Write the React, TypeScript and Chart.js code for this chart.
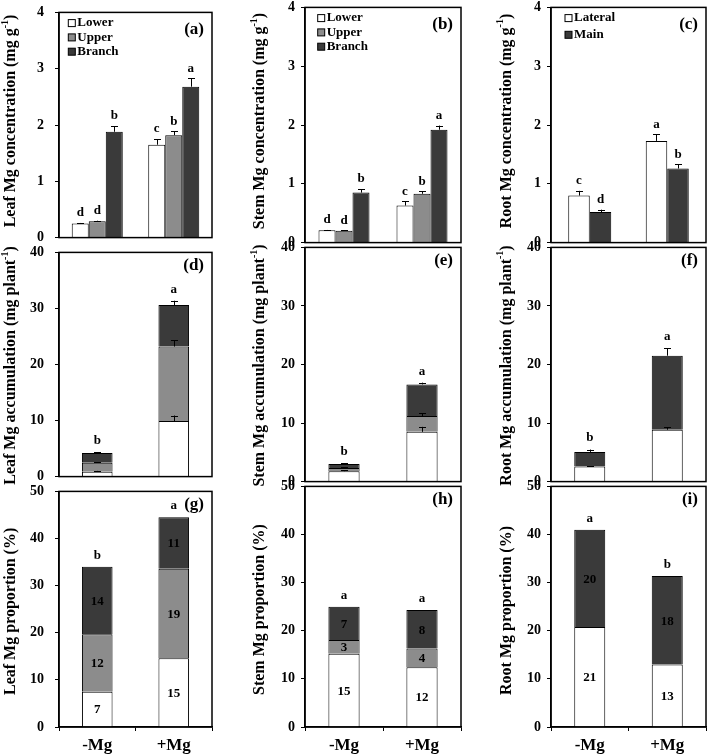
import React, { useEffect, useRef } from 'react';
import { Chart, registerables } from 'chart.js';
Chart.register(...registerables);

const FONT = "'Liberation Serif', 'Times New Roman', serif";
Chart.defaults.font.family = FONT;
Chart.defaults.color = '#000';

const WHITE = '#ffffff';
const GREY = '#8c8c8c';
const DARK = '#3a3a3a';

const groups = ['-Mg', '+Mg'];

// (a) Leaf Mg concentration
const leafConcLower = [0.25, 1.65];
const leafConcLowerErr = [0.01, 0.1];
const leafConcLowerSig = ['d', 'c'];
const leafConcUpper = [0.29, 1.82];
const leafConcUpperErr = [0.01, 0.07];
const leafConcUpperSig = ['d', 'b'];
const leafConcBranch = [1.88, 2.68];
const leafConcBranchErr = [0.1, 0.15];
const leafConcBranchSig = ['b', 'a'];

// (b) Stem Mg concentration
const stemConcLower = [0.21, 0.63];
const stemConcLowerErr = [0.005, 0.07];
const stemConcLowerSig = ['d', 'c'];
const stemConcUpper = [0.2, 0.83];
const stemConcUpperErr = [0.01, 0.04];
const stemConcUpperSig = ['d', 'b'];
const stemConcBranch = [0.85, 1.92];
const stemConcBranchErr = [0.06, 0.07];
const stemConcBranchSig = ['b', 'a'];

// (c) Root Mg concentration
const rootConcLateral = [0.8, 1.73];
const rootConcLateralErr = [0.08, 0.11];
const rootConcLateralSig = ['c', 'a'];
const rootConcMain = [0.52, 1.26];
const rootConcMainErr = [0.04, 0.07];
const rootConcMainSig = ['d', 'b'];

// (d) Leaf Mg accumulation (stacked segments)
const leafAccLower = [0.85, 9.9];
const leafAccLowerErr = [0.17, 1.0];
const leafAccUpper = [1.6, 13.3];
const leafAccUpperErr = [0.15, 1.17];
const leafAccBranch = [1.75, 7.4];
const leafAccBranchErr = [0.12, 0.78];
const leafAccSig = ['b', 'a'];

// (e) Stem Mg accumulation
const stemAccLower = [1.78, 8.5];
const stemAccLowerErr = [0.2, 0.85];
const stemAccUpper = [0.56, 2.7];
const stemAccUpperErr = [0.1, 0.5];
const stemAccBranch = [0.66, 5.4];
const stemAccBranchErr = [0.12, 0.3];
const stemAccSig = ['b', 'a'];

// (f) Root Mg accumulation
const rootAccLateral = [2.56, 8.86];
const rootAccLateralErr = [0.1, 0.4];
const rootAccMain = [2.51, 12.64];
const rootAccMainErr = [0.4, 1.3];
const rootAccSig = ['b', 'a'];

// (g) Leaf Mg proportion
const leafPropLower = [7.5, 14.6];
const leafPropLowerLbl = ['7', '15'];
const leafPropUpper = [12.2, 19.0];
const leafPropUpperLbl = ['12', '19'];
const leafPropBranch = [14.3, 10.9];
const leafPropBranchLbl = ['14', '11'];
const leafPropSig = ['b', 'a'];

// (h) Stem Mg proportion
const stemPropLower = [15.2, 12.4];
const stemPropLowerLbl = ['15', '12'];
const stemPropUpper = [2.9, 3.9];
const stemPropUpperLbl = ['3', '4'];
const stemPropBranch = [6.9, 8.0];
const stemPropBranchLbl = ['7', '8'];
const stemPropSig = ['a', 'a'];

// (i) Root Mg proportion
const rootPropLateral = [20.8, 13.0];
const rootPropLateralLbl = ['21', '13'];
const rootPropMain = [20.2, 18.4];
const rootPropMainLbl = ['20', '18'];
const rootPropSig = ['a', 'b'];

// ---- layout (page pixels) ----
const COLS = [
  { axisX: 59, right: 212, titleX: 11, tickPad: 11, legendDX: 9.3, groupPct: 0.667 },
  { axisX: 305, right: 461, titleX: 260, tickPad: 6, legendDX: 12.7, groupPct: 0.654 },
  { axisX: 551, right: 706, titleX: 506.5, tickPad: 6, legendDX: 14, groupPct: 0.555 },
];
const ROWS = [
  { top: 5, bottom: 245, labelDY: 17, titleY: 121, anchor: 'center', sigGap: 3.5 },
  { top: 245, bottom: 484, labelDY: 13, titleY: 365.5, anchor: 'center', sigGap: 5 },
  { top: 484, bottom: 727, labelDY: 13, titleY: 695, anchor: 'start', sigGap: 5 },
];

type Series = { name: string; color: string; values: number[]; errs?: number[]; sig?: string[]; seg?: string[] };
type Panel = {
  row: number; col: number; label: string; stacked: boolean; max: number; step: number;
  series: Series[]; topSig?: string[]; legend?: boolean; legendSpacing?: number;
  title: string; unitSup?: boolean;
};

const PANELS: Panel[] = [
  {
    row: 0, col: 0, label: '(a)', stacked: false, max: 4, step: 1, legend: true, legendSpacing: 14.3,
    title: 'Leaf Mg concentration (mg g', unitSup: true,
    series: [
      { name: 'Lower', color: WHITE, values: leafConcLower, errs: leafConcLowerErr, sig: leafConcLowerSig },
      { name: 'Upper', color: GREY, values: leafConcUpper, errs: leafConcUpperErr, sig: leafConcUpperSig },
      { name: 'Branch', color: DARK, values: leafConcBranch, errs: leafConcBranchErr, sig: leafConcBranchSig },
    ],
  },
  {
    row: 0, col: 1, label: '(b)', stacked: false, max: 4, step: 1, legend: true, legendSpacing: 14.3,
    title: 'Stem Mg concentration (mg g', unitSup: true,
    series: [
      { name: 'Lower', color: WHITE, values: stemConcLower, errs: stemConcLowerErr, sig: stemConcLowerSig },
      { name: 'Upper', color: GREY, values: stemConcUpper, errs: stemConcUpperErr, sig: stemConcUpperSig },
      { name: 'Branch', color: DARK, values: stemConcBranch, errs: stemConcBranchErr, sig: stemConcBranchSig },
    ],
  },
  {
    row: 0, col: 2, label: '(c)', stacked: false, max: 4, step: 1, legend: true, legendSpacing: 16.7,
    title: 'Root Mg concentration (mg g', unitSup: true,
    series: [
      { name: 'Lateral', color: WHITE, values: rootConcLateral, errs: rootConcLateralErr, sig: rootConcLateralSig },
      { name: 'Main', color: DARK, values: rootConcMain, errs: rootConcMainErr, sig: rootConcMainSig },
    ],
  },
  {
    row: 1, col: 0, label: '(d)', stacked: true, max: 40, step: 10, topSig: leafAccSig,
    title: 'Leaf Mg accumulation (mg plant', unitSup: true,
    series: [
      { name: 'Lower', color: WHITE, values: leafAccLower, errs: leafAccLowerErr },
      { name: 'Upper', color: GREY, values: leafAccUpper, errs: leafAccUpperErr },
      { name: 'Branch', color: DARK, values: leafAccBranch, errs: leafAccBranchErr },
    ],
  },
  {
    row: 1, col: 1, label: '(e)', stacked: true, max: 40, step: 10, topSig: stemAccSig,
    title: 'Stem Mg accumulation (mg plant', unitSup: true,
    series: [
      { name: 'Lower', color: WHITE, values: stemAccLower, errs: stemAccLowerErr },
      { name: 'Upper', color: GREY, values: stemAccUpper, errs: stemAccUpperErr },
      { name: 'Branch', color: DARK, values: stemAccBranch, errs: stemAccBranchErr },
    ],
  },
  {
    row: 1, col: 2, label: '(f)', stacked: true, max: 40, step: 10, topSig: rootAccSig,
    title: 'Root Mg accumulation (mg plant', unitSup: true,
    series: [
      { name: 'Lateral', color: WHITE, values: rootAccLateral, errs: rootAccLateralErr },
      { name: 'Main', color: DARK, values: rootAccMain, errs: rootAccMainErr },
    ],
  },
  {
    row: 2, col: 0, label: '(g)', stacked: true, max: 50, step: 10, topSig: leafPropSig,
    title: 'Leaf Mg proportion (%)',
    series: [
      { name: 'Lower', color: WHITE, values: leafPropLower, seg: leafPropLowerLbl },
      { name: 'Upper', color: GREY, values: leafPropUpper, seg: leafPropUpperLbl },
      { name: 'Branch', color: DARK, values: leafPropBranch, seg: leafPropBranchLbl },
    ],
  },
  {
    row: 2, col: 1, label: '(h)', stacked: true, max: 50, step: 10, topSig: stemPropSig,
    title: 'Stem Mg proportion (%)',
    series: [
      { name: 'Lower', color: WHITE, values: stemPropLower, seg: stemPropLowerLbl },
      { name: 'Upper', color: GREY, values: stemPropUpper, seg: stemPropUpperLbl },
      { name: 'Branch', color: DARK, values: stemPropBranch, seg: stemPropBranchLbl },
    ],
  },
  {
    row: 2, col: 2, label: '(i)', stacked: true, max: 50, step: 10, topSig: rootPropSig,
    title: 'Root Mg proportion (%)',
    series: [
      { name: 'Lateral', color: WHITE, values: rootPropLateral, seg: rootPropLateralLbl },
      { name: 'Main', color: DARK, values: rootPropMain, seg: rootPropMainLbl },
    ],
  },
];

const decorPlugin = {
  id: 'decor',
  afterDraw(chart: any, _args: any, o: any) {
    const ctx = chart.ctx as CanvasRenderingContext2D;
    const { left, right, top, bottom } = chart.chartArea;
    const ys = chart.scales.y;
    const len = (v: number) => ys.getPixelForValue(0) - ys.getPixelForValue(v);
    ctx.save();
    ctx.strokeStyle = '#000';
    ctx.fillStyle = '#000';
    ctx.lineWidth = 1.5;
    ctx.strokeRect(left, top, right - left, bottom - top);

    const series: Series[] = o.series;
    ctx.lineWidth = 1;
    series.forEach((s, i) => {
      const meta = chart.getDatasetMeta(i);
      meta.data.forEach((bar: any, j: number) => {
        const e = s.errs ? len(s.errs[j]) : 0;
        if (s.errs) {
          const x = Math.round(bar.x) + 0.5;
          ctx.beginPath();
          ctx.moveTo(x, bar.y);
          ctx.lineTo(x, bar.y - e);
          ctx.moveTo(x - 3.5, Math.round(bar.y - e) + 0.5);
          ctx.lineTo(x + 3.5, Math.round(bar.y - e) + 0.5);
          ctx.stroke();
        }
        if (s.sig) {
          ctx.font = `bold 13px ${FONT}`;
          ctx.textAlign = 'center';
          ctx.textBaseline = 'bottom';
          ctx.fillText(s.sig[j], bar.x, bar.y - e - o.sigGap);
        }
        if (s.seg) {
          ctx.font = `bold 13px ${FONT}`;
          ctx.textAlign = 'center';
          ctx.textBaseline = 'middle';
          ctx.fillText(s.seg[j], bar.x, (bar.y + bar.base) / 2 + 1);
        }
      });
    });

    if (o.topSig) {
      const last = series.length - 1;
      const meta = chart.getDatasetMeta(last);
      meta.data.forEach((bar: any, j: number) => {
        const errs = series[last].errs;
        const e = errs ? len(errs[j]) : 0;
        ctx.font = `bold 13px ${FONT}`;
        ctx.textAlign = 'center';
        ctx.textBaseline = 'bottom';
        ctx.fillText(o.topSig[j], bar.x, bar.y - e - o.sigGap);
      });
    }

    if (o.legend) {
      series.forEach((s, k) => {
        const cy = top + 10.7 + k * o.legendSpacing;
        const bx = left + o.legendDX;
        ctx.fillStyle = s.color;
        ctx.fillRect(bx, cy - 3.5, 7, 7);
        ctx.strokeStyle = '#000';
        ctx.lineWidth = 1;
        ctx.strokeRect(bx, cy - 3.5, 7, 7);
        ctx.fillStyle = '#000';
        ctx.font = `bold 13px ${FONT}`;
        ctx.textAlign = 'left';
        ctx.textBaseline = 'middle';
        ctx.fillText(s.name, bx + 9, cy);
      });
    }

    // panel label
    ctx.font = `bold 17px ${FONT}`;
    ctx.textAlign = 'right';
    ctx.textBaseline = 'middle';
    ctx.fillText(o.label, right - 8, top + o.labelDY);

    // y title
    const t = o.title;
    ctx.save();
    ctx.translate(t.x, t.y);
    ctx.rotate(-Math.PI / 2);
    ctx.textAlign = 'left';
    ctx.textBaseline = 'middle';
    const parts = t.sup
      ? [{ s: t.text, f: 16, dy: 0 }, { s: '-1', f: 10, dy: -6 }, { s: ')', f: 16, dy: 0 }]
      : [{ s: t.text, f: 16, dy: 0 }];
    let total = 0;
    const widths = parts.map((p) => {
      ctx.font = `bold ${p.f}px ${FONT}`;
      const w = ctx.measureText(p.s).width;
      total += w;
      return w;
    });
    let x0 = t.anchor === 'center' ? -total / 2 : 0;
    parts.forEach((p, k) => {
      ctx.font = `bold ${p.f}px ${FONT}`;
      ctx.fillText(p.s, x0, p.dy);
      x0 += widths[k];
    });
    ctx.restore();
    ctx.restore();
  },
};

function PanelChart({ p }: { p: Panel }) {
  const ref = useRef<HTMLCanvasElement>(null);
  const col = COLS[p.col];
  const row = ROWS[p.row];
  const isBottom = p.row === 2;
  const cLeft = Math.round(col.titleX - 11);
  const cTop = row.top - 12;
  const cRight = Math.min(708, col.right + 2);
  const cBottom = isBottom ? 755 : row.bottom + 12;
  const width = cRight - cLeft;
  const height = cBottom - cTop;

  useEffect(() => {
    const chart = new Chart(ref.current as HTMLCanvasElement, {
      type: 'bar',
      data: {
        labels: groups,
        datasets: p.series.map((s) => ({
          label: s.name,
          data: s.values,
          backgroundColor: s.color,
          borderColor: '#000',
          borderWidth: 1,
          barPercentage: 1,
          categoryPercentage: p.stacked ? 0.4 : col.groupPct,
        })),
      },
      options: {
        responsive: false,
        animation: false,
        devicePixelRatio: 1,
        layout: {
          padding: {
            left: 0,
            top: row.top - cTop,
            right: cRight - col.right,
            bottom: isBottom ? 0 : cBottom - row.bottom,
          },
        },
        plugins: {
          legend: { display: false },
          tooltip: { enabled: false },
          decor: {
            series: p.series,
            topSig: p.topSig,
            sigGap: row.sigGap,
            legend: !!p.legend,
            legendSpacing: p.legendSpacing,
            legendDX: col.legendDX,
            label: p.label,
            labelDY: row.labelDY,
            title: {
              text: p.title,
              sup: !!p.unitSup,
              x: col.titleX - cLeft,
              y: row.titleY - cTop,
              anchor: row.anchor,
            },
          },
        } as any,
        scales: {
          x: {
            stacked: p.stacked,
            display: isBottom,
            afterFit: (s: any) => {
              if (isBottom) s.height = cBottom - row.bottom;
            },
            grid: { display: true, drawOnChartArea: false, offset: true, tickLength: 4, color: '#000' },
            border: { display: true, color: '#000', width: 1.5 },
            ticks: { font: { size: 17, weight: 'bold' }, padding: 4, color: '#000' },
          },
          y: {
            stacked: p.stacked,
            min: 0,
            max: p.max,
            afterFit: (s: any) => {
              s.width = col.axisX - cLeft;
            },
            ticks: { stepSize: p.step, font: { size: 14, weight: 'bold' }, padding: col.tickPad, color: '#000' },
            grid: { display: true, drawOnChartArea: false, tickLength: 4, color: '#000' },
            border: { display: true, color: '#000', width: 1.5 },
          },
        } as any,
      },
      plugins: [decorPlugin],
    });
    return () => chart.destroy();
  }, []);

  return (
    <canvas
      ref={ref}
      width={width}
      height={height}
      style={{ position: 'absolute', left: cLeft, top: cTop, width, height }}
    />
  );
}

export default function App() {
  return (
    <div
      style={{
        position: 'absolute',
        left: 0,
        top: 0,
        width: 708,
        height: 755,
        overflow: 'hidden',
        background: '#fff',
      }}
    >
      {PANELS.map((p, i) => (
        <PanelChart key={i} p={p} />
      ))}
    </div>
  );
}
